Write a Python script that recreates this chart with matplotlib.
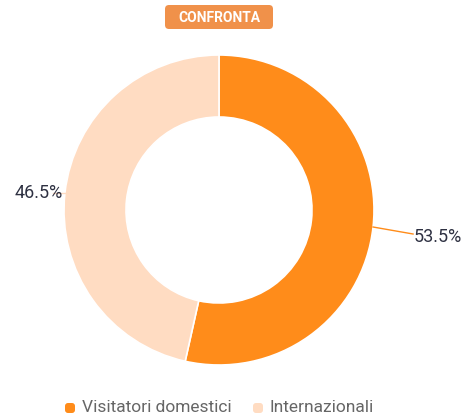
import numpy as np
import matplotlib
matplotlib.use('Agg')
import matplotlib.pyplot as plt
from matplotlib.patches import FancyBboxPatch

# === data ===
labels = ['Visitatori domestici', 'Internazionali']
values = [53.5, 46.5]
colors = ['#FF8C1A', '#FFDCC2']
badge_text = 'CONFRONTA'

plt.rcParams['font.family'] = ['Roboto', 'DejaVu Sans']

W, H = 474, 420
fig = plt.figure(figsize=(W / 100, H / 100), dpi=100)
ax = fig.add_axes([0, 0, 1, 1])

cx, cy, r = 219, 210, 155
ring = 0.40

ax.pie(values, colors=colors, startangle=90, counterclock=False,
       center=(cx, cy), radius=r, frame=True,
       wedgeprops=dict(width=r * ring, edgecolor='white', linewidth=1.2))
ax.set_xlim(0, W)
ax.set_ylim(0, H)
ax.set_aspect('equal')
ax.axis('off')

# labels with leader lines
total = sum(values)
start = 90
for v, c in zip(values, colors):
    mid = np.deg2rad(start - v / total * 180)
    start -= v / total * 360
    x0, y0 = cx + r * np.cos(mid), cy + r * np.sin(mid)
    if np.cos(mid) > 0:
        x1, y1 = x0 + 40, y0 - 7
        ax.plot([x0, x1], [y0, y1], color=c, lw=1)
        ax.text(x1 + 1, y1 - 3, f'{v}%', ha='left', va='center',
                fontsize=13, color='#2E3142')
    else:
        x1, y1 = x0 - 12, y0
        ax.plot([x0, x1], [y0, y1], color=c, lw=1)
        ax.text(x1 + 10, y1 + 0, f'{v}%', ha='right', va='center',
                fontsize=13, color='#2E3142')

# badge on top
badge = FancyBboxPatch((165, H - 29), 108, 24, boxstyle='round,pad=0,rounding_size=4',
                       fc='#F0914A', ec='none')
ax.add_patch(badge)
ax.text(219, H - 17.5, badge_text, ha='center', va='center', fontsize=10,
        fontweight='bold', color='white')

# legend
leg_y = H - 408
leg_x = [65, 253]
for lx, lab, c in zip(leg_x, labels, colors):
    ax.add_patch(FancyBboxPatch((lx, leg_y - 5), 10, 10,
                                boxstyle='round,pad=0,rounding_size=3',
                                fc=c, ec='none'))
    ax.text(lx + 17, leg_y, lab, ha='left', va='center', fontsize=12.5,
            color='#666666')

fig.savefig('out.png', dpi=100)
